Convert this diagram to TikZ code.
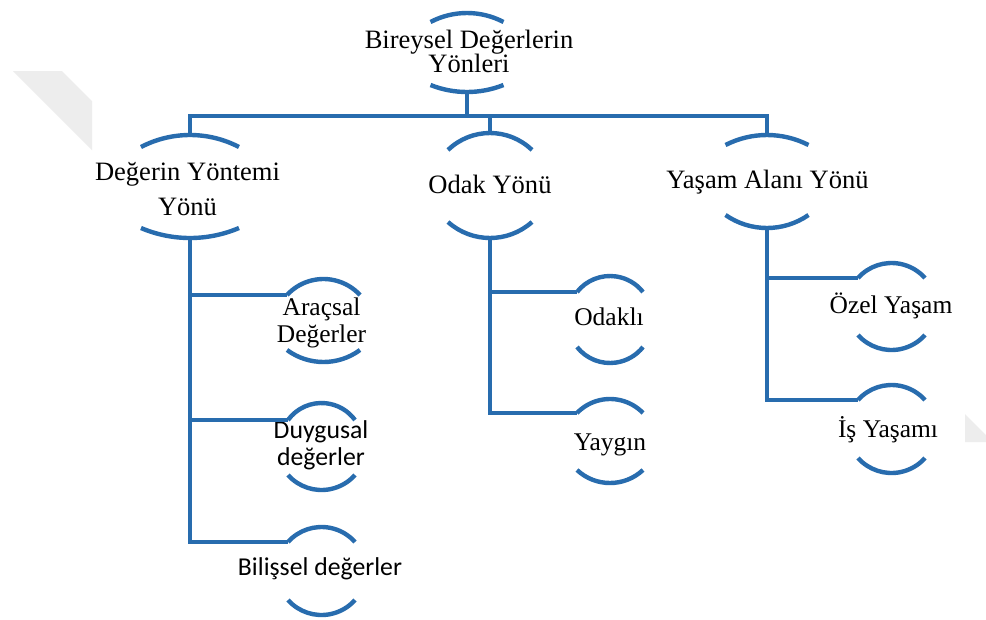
\documentclass[tikz,border=0pt]{standalone}
\usepackage{fontspec}
\setmainfont{Liberation Serif}
\newfontfamily\calib{Carlito}
\definecolor{lineblue}{RGB}{40,108,174}
\definecolor{wmgray}{RGB}{237,237,237}
\newcommand{\twol}[3]{\vtop{\baselineskip=#3\lineskiplimit=-100pt\lineskip=0pt\halign{\hfil##\hfil\cr #1\cr #2\cr}}}
\newcommand{\brk}[7]{%
  \coordinate (#1-t) at (#2,#5);
  \coordinate (#1-b) at (#2,#7);
  \coordinate (#1-l) at ({#2-#3},#4);
  \pgfmathsetmacro\brkS{#4-#5}%
  \pgfmathsetmacro\brkR{(#3*#3+\brkS*\brkS)/(2*\brkS)}%
  \pgfmathsetmacro\brkT{asin(#3/\brkR)}%
  \draw[arcline] ({#2-#3},#4) arc[start angle={270-\brkT}, end angle={270+\brkT}, radius=\brkR];
  \pgfmathsetmacro\brkS{#7-#6}%
  \pgfmathsetmacro\brkR{(#3*#3+\brkS*\brkS)/(2*\brkS)}%
  \pgfmathsetmacro\brkT{asin(#3/\brkR)}%
  \draw[arcline] ({#2-#3},#6) arc[start angle={90+\brkT}, end angle={90-\brkT}, radius=\brkR];
}
\begin{document}
\begin{tikzpicture}[x=0.75pt,y=-0.75pt,
  conn/.style={draw=lineblue,line width=3.6pt,line join=miter},
  arcline/.style={draw=lineblue,line width=3.3pt},
  lbl/.style={inner sep=0pt,anchor=base,text=black,font=\fontsize{19.9}{24}\selectfont},
  leaf/.style={inner sep=0pt,anchor=base,text=black,font=\fontsize{19.1}{24}\selectfont},
  sleaf/.style={inner sep=0pt,anchor=base,text=black,font=\calib\fontsize{19.3}{24}\selectfont}]
\fill[white] (0,0) rectangle (986,619);
\useasboundingbox (0,0) rectangle (986,619);
% watermark
\fill[wmgray] (13,71) -- (62,71) -- (92,101) -- (92,150) -- cycle;
\fill[wmgray] (965,414) -- (986,435) -- (986,442) -- (965,442) -- cycle;
% brackets
\brk{top}{467}{36.5}{22}{13}{85}{92}
\brk{deg}{190}{49}{147}{135}{228}{238}
\brk{odak}{490}{42}{150}{133}{222}{238}
\brk{yasam}{767}{41.5}{145}{135}{215}{228}
\brk{arac}{323.5}{36.5}{295}{279}{350}{362}
\brk{duyg}{321.5}{33.5}{420}{403}{475}{490}
\brk{bil}{321.5}{33.5}{542}{527}{600}{615}
\brk{odakli}{610}{33}{292}{276}{347}{363}
\brk{yaygin}{610}{33}{413}{399}{470}{483}
\brk{ozel}{891.5}{33.5}{278}{263}{335}{350}
\brk{is}{891.5}{33.5}{400}{385}{458}{473}
% texts
\node[lbl] (topn) at (469,48) {\twol{Bireysel Değerlerin}{Yönleri}{18pt}};
\node[lbl] (degn) at (187.5,180) {\twol{Değerin Yöntemi}{Yönü}{26.25pt}};
\node[lbl] (odakn) at (490,193) {Odak Yönü};
\node[lbl] (yasamn) at (767.5,188) {Yaşam Alanı Yönü};
\node[leaf] (aracn) at (321.5,315) {\twol{Araçsal}{Değerler}{20.25pt}};
\node[sleaf] (duygn) at (321,438) {\twol{Duygusal}{değerler}{20.25pt}};
\node[sleaf] (biln) at (320,575) {Bilişsel değerler};
\node[leaf] (odaklin) at (609,325) {Odaklı};
\node[leaf] (yayginn) at (610,450) {Yaygın};
\node[leaf] (ozeln) at (891,313) {Özel Yaşam};
\node[leaf] (isn) at (888,437) {İş Yaşamı};
% connectors
\coordinate (bus) at (0,116);
\draw[conn] (deg-t) -- (deg-t |- bus) -- (yasam-t |- bus) -- (yasam-t);
\draw[conn] (top-b) -- (top-b |- bus);
\draw[conn] (odak-t |- bus) -- (odak-t);
\draw[conn] (deg-b) -- (deg-b |- bil-l) -- (bil-l);
\draw[conn] (deg-b |- arac-l) -- (arac-l);
\draw[conn] (deg-b |- duyg-l) -- (duyg-l);
\draw[conn] (odak-b) -- (odak-b |- yaygin-l) -- (yaygin-l);
\draw[conn] (odak-b |- odakli-l) -- (odakli-l);
\draw[conn] (yasam-b) -- (yasam-b |- is-l) -- (is-l);
\draw[conn] (yasam-b |- ozel-l) -- (ozel-l);
\end{tikzpicture}
\end{document}
